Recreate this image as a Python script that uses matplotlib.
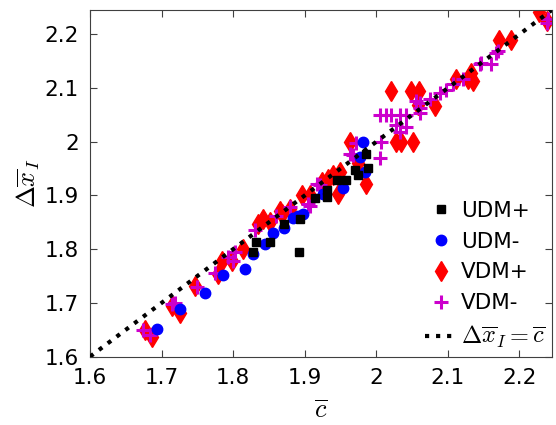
import numpy as np
import matplotlib
matplotlib.use('Agg')
import matplotlib.pyplot as plt

plt.rcParams['mathtext.fontset'] = 'cm'

# datos
udm_p_x = [1.832, 1.828, 1.851, 1.871, 1.893, 1.914, 1.931, 1.931, 1.945, 1.958, 1.970, 1.975, 1.989, 1.985, 1.892]
udm_p_y = [1.814, 1.795, 1.813, 1.847, 1.856, 1.896, 1.910, 1.897, 1.928, 1.928, 1.947, 1.938, 1.952, 1.977, 1.794]

udm_m_x = [1.693, 1.725, 1.760, 1.786, 1.817, 1.828, 1.845, 1.856, 1.871, 1.884, 1.891, 1.898,
           1.926, 1.928, 1.954, 1.977, 1.982, 1.984]
udm_m_y = [1.652, 1.689, 1.719, 1.752, 1.763, 1.791, 1.810, 1.830, 1.839, 1.858, 1.862, 1.866,
           1.903, 1.903, 1.913, 1.972, 2.000, 1.944]

vdm_p_x = [1.677, 1.686, 1.714, 1.726, 1.747, 1.779, 1.784, 1.798, 1.814, 1.835, 1.842, 1.851,
           1.865, 1.868, 1.879, 1.896, 1.907, 1.924, 1.933, 1.940, 1.947, 1.949, 1.963, 1.975,
           1.986, 2.020, 2.048, 2.060, 2.028, 2.035, 2.051, 2.059, 2.082, 2.112, 2.128, 2.135,
           2.133, 2.172, 2.188, 2.228, 2.238]
vdm_p_y = [1.650, 1.637, 1.694, 1.681, 1.731, 1.753, 1.778, 1.778, 1.800, 1.847, 1.856, 1.850,
           1.872, 1.866, 1.875, 1.900, 1.900, 1.925, 1.931, 1.938, 1.903, 1.944, 2.000, 1.960,
           1.922, 2.095, 2.095, 2.095, 1.999, 1.999, 1.999, 2.069, 2.066, 2.116, 2.116, 2.113,
           2.128, 2.190, 2.190, 2.241, 2.225]

vdm_m_x = [1.674, 1.684, 1.714, 1.719, 1.749, 1.775, 1.793, 1.802, 1.800, 1.830, 1.860, 1.879,
           1.905, 1.907, 1.917, 1.921, 1.963, 1.968, 1.972, 2.005, 2.007, 2.005, 2.014, 2.021,
           2.033, 2.042, 2.028, 2.033, 2.042, 2.056, 2.061, 2.061, 2.061, 2.075, 2.089, 2.098,
           2.107, 2.121, 2.145, 2.147, 2.161, 2.168, 2.170, 2.238, 2.240]
vdm_m_y = [1.650, 1.641, 1.697, 1.700, 1.730, 1.756, 1.785, 1.794, 1.778, 1.835, 1.862, 1.878,
           1.885, 1.881, 1.922, 1.919, 1.978, 1.975, 1.997, 1.969, 2.000, 2.050, 2.050, 2.050,
           2.050, 2.050, 2.032, 2.019, 2.028, 2.075, 2.063, 2.053, 2.072, 2.080, 2.091, 2.097,
           2.107, 2.116, 2.144, 2.147, 2.144, 2.166, 2.169, 2.222, 2.229]

lim = [1.6, 2.245]

fig = plt.figure(figsize=(5.56, 4.25), dpi=100)
ax = fig.add_axes([0.162, 0.161, 0.83, 0.815])

h4, = ax.plot(vdm_m_x, vdm_m_y, '+', color='#cc00cc', markersize=9.5, mew=2.2, linestyle='none', zorder=2)
h3, = ax.plot(vdm_p_x, vdm_p_y, 'd', color='red', markersize=10.5, linestyle='none', zorder=1)
h2, = ax.plot(udm_m_x, udm_m_y, 'o', color='blue', markersize=7.5, linestyle='none', zorder=3)
h1, = ax.plot(udm_p_x, udm_p_y, 's', color='black', markersize=6, linestyle='none', zorder=4)
h5, = ax.plot(lim, lim, ':', color='black', linewidth=3, zorder=5)

ax.set_xlim(lim)
ax.set_ylim(lim)
ticks = [1.6, 1.7, 1.8, 1.9, 2.0, 2.1, 2.2]
labels = ['1.6', '1.7', '1.8', '1.9', '2', '2.1', '2.2']
ax.set_xticks(ticks)
ax.set_xticklabels(labels)
ax.set_yticks(ticks)
ax.set_yticklabels(labels)
ax.tick_params(direction='in', top=True, right=True, labelsize=15.5, length=5, color='#404040')
ax.tick_params(axis='x', pad=8)
ax.tick_params(axis='y', pad=8)
for s in ax.spines.values():
    s.set_color('#404040')

ax.set_xlabel(r'$\overline{c}$', fontsize=19, labelpad=7)
ax.set_ylabel(r'$\Delta\overline{x}_I$', fontsize=19, labelpad=2)

leg = ax.legend([h1, h2, h3, h4, h5], ['UDM+', 'UDM-', 'VDM+', 'VDM-', r'$\Delta\overline{x}_I=\overline{c}$'],
                loc='lower right', frameon=False, fontsize=15.5, handlelength=1.4, handletextpad=0.25,
                labelspacing=0.5, borderaxespad=0.1, borderpad=0.2)
leg.get_texts()[4].set_fontsize(17.5)

fig.savefig('out.png')
